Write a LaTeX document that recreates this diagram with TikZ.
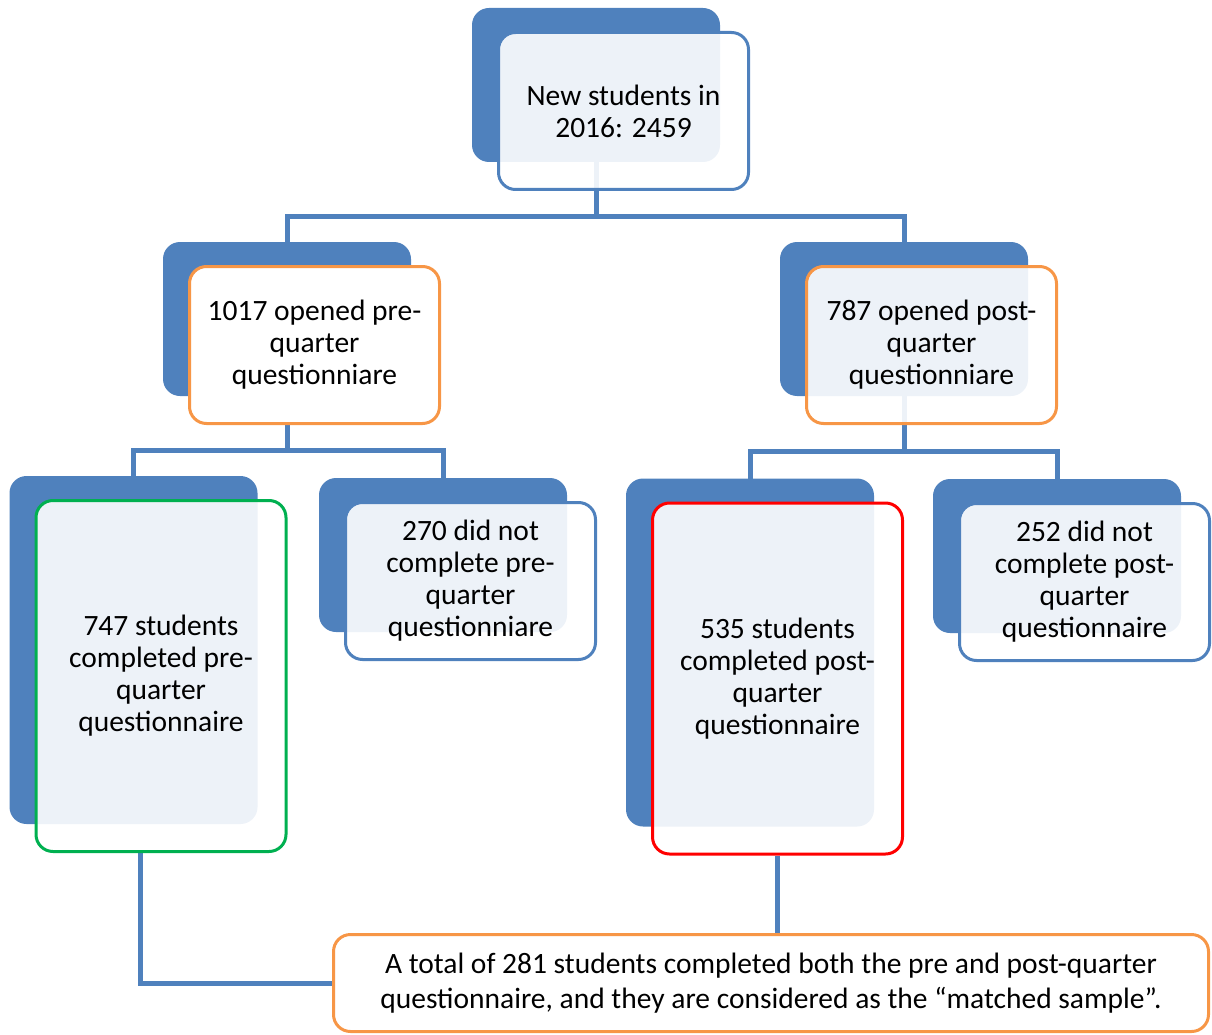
\documentclass[tikz,border=0pt]{standalone}
\usepackage{fontspec}
\setmainfont{Carlito}
\usetikzlibrary{positioning,calc,fit}
\definecolor{smblue}{HTML}{4F81BD}
\definecolor{smorange}{HTML}{F79646}
\definecolor{smgreen}{HTML}{00B050}
\definecolor{smred}{HTML}{FF0000}
\pgfdeclarelayer{links}
\pgfdeclarelayer{tiles}
\pgfsetlayers{links,tiles,main}

\begin{document}
\begin{tikzpicture}[
  x=1pt, y=1pt,
  font=\fontsize{29.5}{32}\selectfont,
  card/.style={draw=smblue, line width=3pt, rounded corners=17pt, fill=white,
               fill opacity=0.9, text opacity=1, align=center, inner sep=0pt,
               minimum width=250pt, minimum height=157pt},
  tall/.style={minimum height=351pt},
  tile/.style={fill=smblue, rounded corners=17pt, inner sep=0pt},
  link/.style={draw=smblue, line width=5pt},
]
\useasboundingbox (0,0) rectangle (1212,-1035);

% ---- front cards ----
\node[card] (new) at (623.5,-111) {New students in\\2016: 2459};
\node[card, draw=smorange, fill opacity=1] (opre) at (314.5,-345)
  {1017 opened pre-\\quarter\\questionniare};
\node[card, draw=smorange] (opost) at (931.5,-345)
  {787 opened post-\\quarter\\questionniare};
\node[card, tall, draw=smgreen] (cpre) at (161,-676)
  {747 students\\completed pre-\\quarter\\questionnaire};
\node[card] (npre) at (470.5,-581)
  {270 did not\\complete pre-\\quarter\\questionniare};
\node[card, tall, draw=smred] (cpost) at (777.5,-678.5)
  {535 students\\completed post-\\quarter\\questionnaire};
\node[card] (npost) at (1084.5,-582)
  {252 did not\\complete post-\\quarter\\questionnaire};

% ---- back tiles ----
\begin{pgfonlayer}{tiles}
\foreach \n in {new,opre,opost,cpre,npre,cpost,npost}
  \node[tile, fit={($(\n.north west)+(-25,23)$) ($(\n.south east)+(-30,29)$)}] (\n-t) {};
\end{pgfonlayer}

% ---- summary ----
\node[card, draw=smorange, fill opacity=1, minimum width=875pt, minimum height=97pt,
      font=\fontsize{29.5}{35}\selectfont] (match) at (771,-983)
  {A total of 281 students completed both the pre and post-quarter\\
   questionnaire, and they are considered as the “matched sample”.};

% ---- connectors ----
\begin{pgfonlayer}{links}
\coordinate (b1) at ($(new.south)!0.5!(opre-t.north)$);
\draw[link] (new-t.center) |- (b1 -| opre-t.center) -- (opre-t.center);
\draw[link] (b1 -| new-t.center) -| (opost-t.center);
\coordinate (b2) at ($(opre.south)!0.5!(cpre-t.north)$);
\draw[link] (opre-t.center) |- (b2 -| cpre-t.center) -- (cpre-t.center);
\draw[link] (b2 -| opre-t.center) -| (npre-t.center);
\coordinate (b3) at ($(opost.south)!0.5!(cpost-t.north)$);
\draw[link] (opost-t.center) |- (b3 -| cpost-t.center) -- (cpost-t.center);
\draw[link] (b3 -| opost-t.center) -| (npost-t.center);
\draw[link] ([xshift=-21pt]cpre.south) |- (match.west);
\draw[link] (cpost.south) -- (cpost.south |- match.north);
\end{pgfonlayer}
\end{tikzpicture}
\end{document}
